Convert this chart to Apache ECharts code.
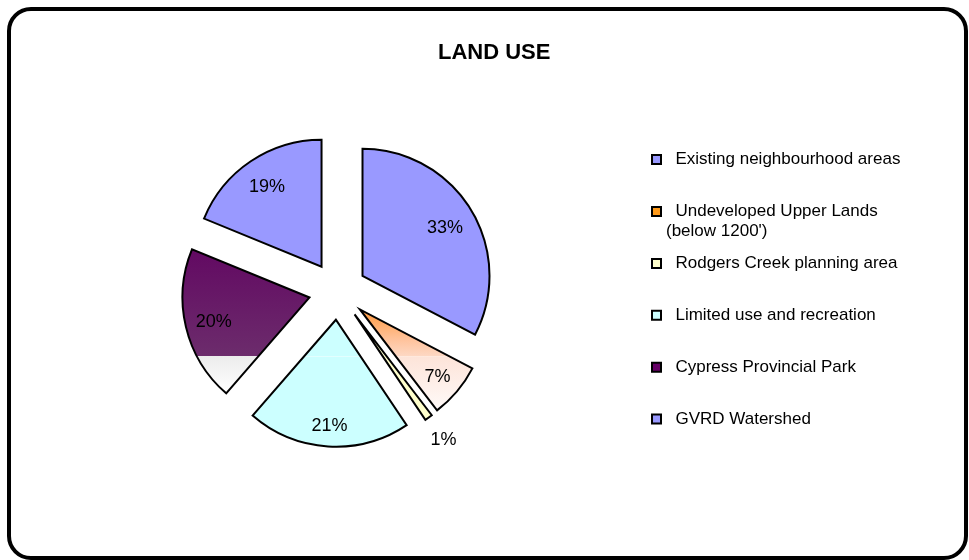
<!DOCTYPE html>
<html>
<head>
<meta charset="utf-8">
<script src="https://cdn.jsdelivr.net/npm/echarts@6/dist/echarts.min.js"></script>
<style>
  html, body { margin: 0; padding: 0; background: #ffffff; }
  #chart { width: 969px; height: 560px; }
</style>
</head>
<body>
<div id="chart"></div>
<script>
// Land use shares, clockwise from 12 o'clock
const categories = [
  'Existing neighbourhood areas',
  "Undeveloped Upper Lands\n(below 1200')",
  'Rodgers Creek planning area',
  'Limited use and recreation',
  'Cypress Provincial Park',
  'GVRD Watershed'
];
const shares = [33, 7, 1, 21, 20, 19];
const chartTitle = 'LAND USE';

// ---- styling ----
const FONT = '"Liberation Sans", Arial, sans-serif';
const CENTER = [337.7, 290.8];
const RADIUS = 127;
const EXPLODE = 29;
const legendColors = ['#9999ff', '#ff9a1a', '#ffffcc', '#ccffff', '#660066', '#9999ff'];
// distance of each value label from the slice tip, as a fraction of the radius
const labelRadius = [0.76, 0.80, 1.20, 0.82, 0.775, 0.77];
const LABEL_DROP = 2;
// legend rows: first row centre and spacing
const LEGEND_X = 651, LEGEND_Y0 = 159.6, LEGEND_STEP = 51.9;

const total = shares.reduce((a, b) => a + b, 0);
let acc = 0;
const dirs = shares.map(v => {
  const a = (acc + v / 2) / total * 2 * Math.PI;
  acc += v;
  return [Math.sin(a), -Math.cos(a)];
});

// vertical gradient given in page y; converted to the slice's own frame
function vGradient(i, stops) {
  const dy = dirs[i][1] * EXPLODE;
  const y0 = stops[0][0], y1 = stops[stops.length - 1][0];
  return {
    type: 'linear', global: true,
    x: 0, y: y0 - dy, x2: 0, y2: y1 - dy,
    colorStops: stops.map(s => ({ offset: (s[0] - y0) / (y1 - y0), color: s[1] }))
  };
}

const fills = [
  '#9999ff',
  vGradient(1, [[310, '#ff9a40'], [340, '#ffc39c'], [356.2, '#fdd8c4'], [356.7, '#fff4ee'], [357.3, '#fde4d9'], [413, '#fffbfa']]),
  '#ffffcc',
  vGradient(3, [[321, '#ccffff'], [356.1, '#ccffff'], [356.7, '#eeffff'], [357.3, '#ccffff'], [449, '#ccffff']]),
  vGradient(4, [[246, '#620862'], [356.3, '#6c2c6c'], [356.3, '#ececec'], [392, '#ffffff']]),
  '#9999ff'
];

const pieData = shares.map((v, i) => ({
  name: categories[i],
  value: v,
  selected: true,
  itemStyle: { color: fills[i] }
}));

// push each inside label out from its default spot (half radius + 3px)
function labelShift(i) {
  const extra = labelRadius[i] * RADIUS - RADIUS / 2 - 3;
  return { dx: dirs[i][0] * extra, dy: dirs[i][1] * extra + LABEL_DROP };
}

// one legend block per entry so every marker sits on its first text line
const legends = categories.map((name, i) => {
  const lines = name.split('\n').length;
  const shown = lines > 1 ? '\n' + name : name;   // blank lead line keeps the marker on line one
  const half = (lines > 1 ? 3 : 1) * 10;
  return {
    orient: 'vertical',
    left: LEGEND_X,
    top: LEGEND_Y0 + i * LEGEND_STEP - half,
    padding: 0,
    itemWidth: 9, itemHeight: 9,
    icon: 'rect', selectedMode: false,
    formatter: () => shown.split('\n').map((s, k) => (k === (lines > 1 ? 1 : 0) ? '  ' + s : s)).join('\n'),
    textStyle: { fontSize: 17, fontFamily: FONT, color: '#000', lineHeight: 20 },
    data: [{
      name: name,
      itemStyle: { color: legendColors[i], borderColor: '#000', borderWidth: 2 }
    }]
  };
});

const chart = echarts.init(document.getElementById('chart'), null, { renderer: 'canvas' });
chart.setOption({
  backgroundColor: '#ffffff',
  animation: false,
  title: {
    text: chartTitle,
    left: 438, top: 42, padding: 0,
    textStyle: { fontSize: 22, fontWeight: 'bold', fontFamily: FONT, color: '#000' }
  },
  graphic: [{
    type: 'rect', silent: true, z: 100,
    shape: { x: 9, y: 9, width: 957, height: 549, r: 22 },
    style: { fill: 'none', stroke: '#000', lineWidth: 4 }
  }],
  legend: legends,
  series: [{
    type: 'pie',
    center: CENTER,
    radius: [0, RADIUS],
    startAngle: 90,
    clockwise: true,
    selectedMode: 'multiple',
    selectedOffset: EXPLODE,
    avoidLabelOverlap: false,
    itemStyle: { borderColor: '#000', borderWidth: 2, borderJoin: 'miter' },
    emphasis: { disabled: true },
    label: {
      show: true, position: 'inside',
      formatter: p => p.value + '%',
      fontSize: 18, fontFamily: FONT, color: '#000'
    },
    labelLayout: p => labelShift(p.dataIndex),
    labelLine: { show: false },
    data: pieData
  }]
});
</script>
</body>
</html>
